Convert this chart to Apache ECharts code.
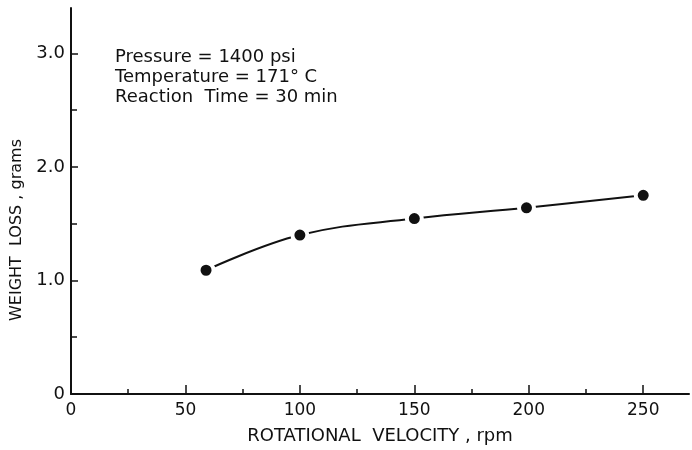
<!DOCTYPE html>
<html>
<head>
<meta charset="utf-8">
<script src="https://cdn.jsdelivr.net/npm/echarts@6/dist/echarts.min.js"></script>
<style>
  html, body { margin: 0; padding: 0; background: #fff; }
  #chart { width: 692px; height: 450px; }
</style>
</head>
<body>
<div id="chart"></div>
<script>
// rotational velocity (rpm) vs weight loss (grams)
const velocity = [59, 100, 150, 199, 250];
const weightLoss = [1.09, 1.40, 1.545, 1.64, 1.75];
const xTicks = [0, 50, 100, 150, 200, 250];
const yTicks = [0, 1, 2, 3];
const notes = ["Pressure = 1400 psi", "Temperature = 171° C", "Reaction  Time = 30 min"];

const FONT = "DejaVu Sans";
const ink = "#111";

const chart = echarts.init(document.getElementById("chart"));
chart.setOption({
  backgroundColor: "#fff",
  animation: false,
  textStyle: { fontFamily: FONT, color: ink },
  grid: { left: 71, right: 3, top: 8, bottom: 56, containLabel: false },
  graphic: [{
    type: "text",
    left: 115,
    top: 47,
    style: {
      text: notes.join("\n"),
      font: "18px " + FONT,
      lineHeight: 20,
      fill: ink
    }
  }],
  xAxis: {
    type: "value",
    min: 0,
    max: 270,
    interval: 50,
    name: "ROTATIONAL  VELOCITY , rpm",
    nameLocation: "middle",
    nameGap: 33,
    nameTextStyle: { fontSize: 18, color: ink, fontFamily: FONT },
    axisLine: { show: true, onZero: false, lineStyle: { color: ink, width: 2 } },
    axisTick: { show: true, inside: true, length: 9, customValues: xTicks, lineStyle: { color: ink, width: 1.5 } },
    minorTick: { show: true, splitNumber: 2, length: 5, lineStyle: { color: ink, width: 1.5 } },
    axisLabel: { fontSize: 17, color: ink, margin: 8, customValues: xTicks },
    splitLine: { show: false }
  },
  yAxis: {
    type: "value",
    min: 0,
    max: 3.4,
    interval: 1,
    name: "WEIGHT  LOSS , grams",
    nameLocation: "middle",
    nameGap: 46,
    nameTextStyle: { fontSize: 16, color: ink, fontFamily: FONT, padding: [0, 58, 0, 0] },
    axisLine: { show: true, onZero: false, lineStyle: { color: ink, width: 2 } },
    axisTick: { show: true, inside: true, length: 7, customValues: yTicks, lineStyle: { color: ink, width: 1.5 } },
    minorTick: { show: true, splitNumber: 2, length: 6, lineStyle: { color: ink, width: 1.5 } },
    axisLabel: { fontSize: 18, color: ink, margin: 6, customValues: yTicks,
      formatter: v => (v === 0 ? "0" : v.toFixed(1)) },
    splitLine: { show: false }
  },
  series: [{
    type: "line",
    data: velocity.map((v, i) => [v, weightLoss[i]]),
    smooth: 0.4,
    symbol: "circle",
    symbolSize: 15,
    itemStyle: { color: ink, borderColor: "#fff", borderWidth: 4 },
    lineStyle: { color: ink, width: 2 }
  }]
});
</script>
</body>
</html>
